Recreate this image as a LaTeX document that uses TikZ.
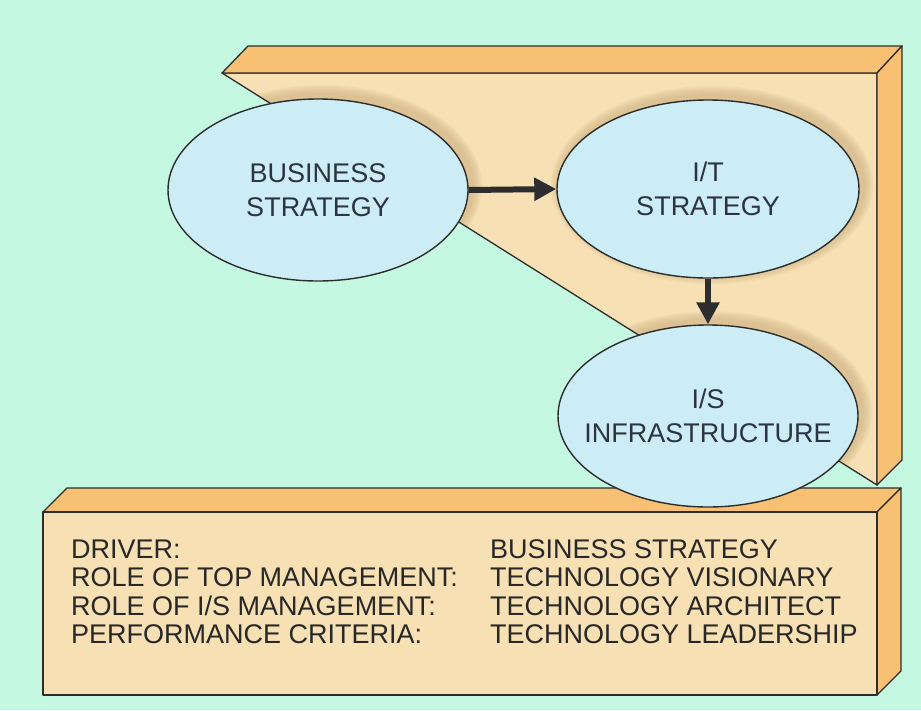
\documentclass[tikz,border=0pt]{standalone}
\usepackage{fontspec}
\setmainfont{Liberation Sans}
\usetikzlibrary{shapes.geometric,arrows.meta}
\definecolor{bg}{RGB}{196,248,224}
\definecolor{orng}{RGB}{248,192,114}
\definecolor{beige}{RGB}{246,224,180}
\definecolor{ellfill}{RGB}{204,236,246}
\definecolor{edge}{RGB}{45,45,45}
\definecolor{txt}{RGB}{45,52,62}
\definecolor{rowtxt}{RGB}{40,40,40}
\definecolor{shade}{RGB}{196,166,118}
\begin{document}
\begin{tikzpicture}[x=1pt,y=-1pt,
  face/.style={draw=edge, line width=1.3pt, line join=round},
  oval/.style={ellipse, draw=edge, line width=1.4pt, fill=ellfill, minimum width=300pt, minimum height=182pt, inner ysep=0pt, inner xsep=-20pt, align=center, text=txt, font=\fontsize{27}{34}\selectfont},
  flow/.style={line width=6pt, draw=edge, -{Triangle[length=22pt,width=22pt]}},
  row/.style={anchor=base west, inner sep=0pt, text=rowtxt, font=\fontsize{27}{28}\selectfont},
  halo/.style={fill=shade, opacity=0.13}]
% background
\fill[bg] (0,0) rectangle (921,710);
\useasboundingbox (0,0) rectangle (921,710);
% back panel
\fill[beige] (222,73) -- (877,73) -- (877,485) -- cycle;
\begin{scope}
  \clip (222,73) -- (877,73) -- (877,485) -- cycle;
  \foreach \r in {10,8,6,4,2} {
    \fill[halo] (322,186) ellipse [x radius=150pt+\r pt, y radius=91pt+\r pt];
    \fill[halo] (712,185) ellipse [x radius=151pt+\r pt, y radius=89pt+\r pt];
    \fill[halo] (712,412) ellipse [x radius=150pt+\r pt, y radius=91pt+\r pt];
  }
\end{scope}
\draw[face] (222,73) -- (877,73) -- (877,485) -- cycle;
\draw[face, fill=orng] (222,73) -- (248,46) -- (902,46) -- (877,73) -- cycle;
\draw[face, fill=orng] (877,73) -- (902,46) -- (902,460) -- (877,485) -- cycle;
% base slab
\draw[face, fill=orng] (43,512) -- (67,488) -- (901,488) -- (877,512) -- cycle;
\draw[face, fill=orng] (877,512) -- (901,488) -- (901,671) -- (877,695) -- cycle;
\draw[face, fill=beige] (43,512) rectangle (877,695);
% ellipses
\node[oval] (bs) at (318,190) {BUSINESS\\STRATEGY};
\node[oval, minimum width=302pt, minimum height=178pt] (its) at (708,189) {I/T\\STRATEGY};
\node[oval] (isi) at (708,416) {I/S\\INFRASTRUCTURE};
% arrows
\draw[flow] (bs.east) -- (its.west);
\draw[flow] (its.south) -- (isi.north);
% table text
\node[row] (l1) at (71,558) {DRIVER:};
\node[row] (l2) at (71,586.5) {ROLE OF TOP MANAGEMENT:};
\node[row] (l3) at (71,615) {ROLE OF I/S MANAGEMENT:};
\node[row] (l4) at (71,643.5) {PERFORMANCE CRITERIA:};
\node[row] (r1) at (490,558) {BUSINESS STRATEGY};
\node[row] (r2) at (490,586.5) {TECHNOLOGY VISIONARY};
\node[row] (r3) at (490,615) {TECHNOLOGY ARCHITECT};
\node[row] (r4) at (490,643.5) {TECHNOLOGY LEADERSHIP};
\end{tikzpicture}
\end{document}
